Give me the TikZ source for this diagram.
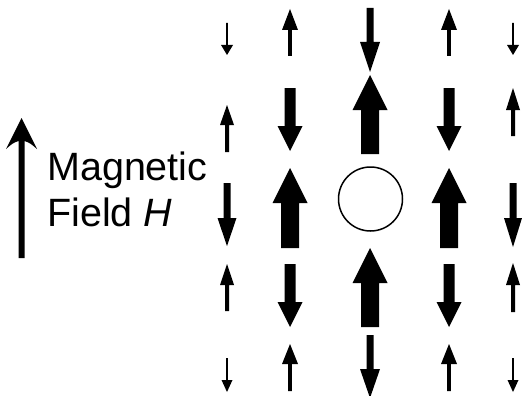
\documentclass[tikz,border=0pt]{standalone}
\usepackage{fontspec}
\setmainfont{Liberation Sans}
\newcommand\fatarr[6]{% x, tail y, head-base y, tip y, shaft width, head width
  \fill[arrowfill] ({#1-#5/2},#2) -- ({#1-#5/2},#3) -- ({#1-#6/2},#3) -- (#1,#4)
    -- ({#1+#6/2},#3) -- ({#1+#5/2},#3) -- ({#1+#5/2},#2) -- cycle;}
\begin{document}
\begin{tikzpicture}[x=1pt,y=-1pt,
  arrowfill/.style={black},
  label/.style={anchor=base west,inner sep=0pt,font=\fontsize{39.5}{46}\selectfont},
  hole/.style={circle,draw,line width=1.5pt,minimum size=64pt,inner sep=0pt}]
\useasboundingbox (0,0) rectangle (522,396);
% field arrow
\fill (21.5,118) -- (37,149) .. controls (30,143) .. (24.5,141) -- (24.5,258) -- (18.5,258)
  -- (18.5,141) .. controls (13,143) .. (6,149) -- cycle;
\node[label] (mag) at (47,180) {Magnetic};
\node[label] (fld) at (47,226.7) {Field \textit{H}};
% column 1
\fatarr{227}{23}{45}{55}{1.6}{12}
\fatarr{227}{152}{125}{105}{4}{14}
\fatarr{227}{183}{218}{246}{7}{19}
\fatarr{227}{311}{285}{264}{4}{14}
\fatarr{227}{358}{380}{392}{1.6}{11}
% column 2
\fatarr{290}{56}{30}{9}{3.6}{16}
\fatarr{290}{88}{126}{151}{11}{25}
\fatarr{290}{248}{203}{168}{18}{35}
\fatarr{290}{264}{302}{327}{11}{25}
\fatarr{290}{391}{364}{344}{3.6}{16}
% column 3
\fatarr{370}{8}{42}{72}{7}{20}
\fatarr{370}{154}{110}{75}{18}{35}
\node[hole] (c) at (370.5,199) {};
\fatarr{370}{327}{283}{248}{18}{35}
\fatarr{370}{335}{369}{398}{7}{20}
% column 4
\fatarr{449}{56}{30}{9}{3.6}{16}
\fatarr{449}{88}{126}{151}{11}{25}
\fatarr{449}{248}{203}{168}{18}{35}
\fatarr{449}{264}{302}{327}{11}{25}
\fatarr{449}{391}{364}{344}{3.6}{16}
% column 5
\fatarr{513}{23}{45}{55}{1.6}{12}
\fatarr{513}{136}{110}{88}{4}{14}
\fatarr{513}{183}{218}{247}{7}{18}
\fatarr{513}{312}{285}{263}{4}{14}
\fatarr{513}{358}{380}{392}{1.6}{11}
\end{tikzpicture}
\end{document}
